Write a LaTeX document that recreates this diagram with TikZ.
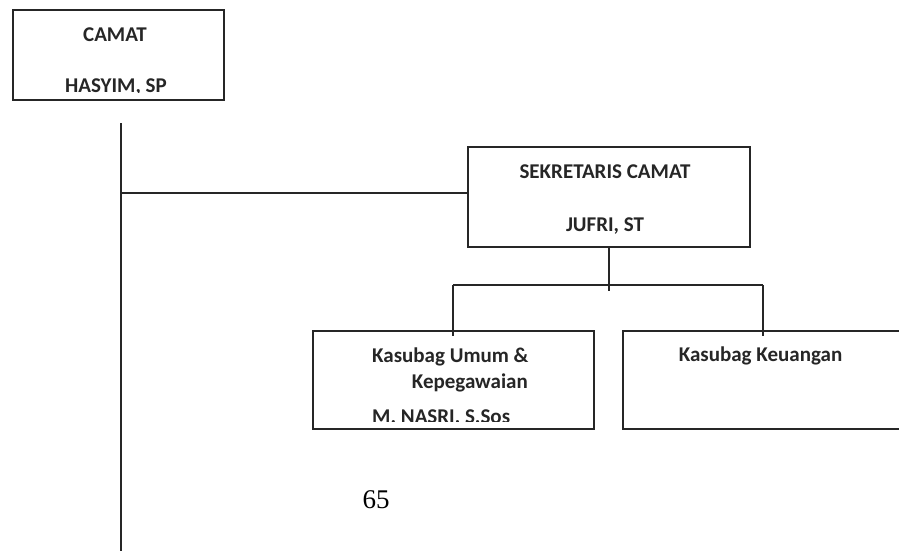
\documentclass[tikz,border=0pt]{standalone}
\usepackage{fontspec}
\setmainfont{Liberation Serif}
\newfontfamily\orgfont{Carlito}
\usetikzlibrary{positioning}

\begin{document}
\begin{tikzpicture}[
        x=1pt, y=-1pt,
        every node/.style={font=\orgfont\bfseries\fontsize{21}{25}\selectfont,
            text=black!85, inner sep=0pt},
        box/.style={rectangle, draw=black!85, line width=1.4pt, fill=none},
        line/.style={draw=black!85, line width=1.4pt}
    ]
    \clip (0,0) rectangle (899,550);
    \fill[white] (0,0) rectangle (899,550);

    % boxes
    \node (camat) [box, minimum width=211pt, minimum height=90pt] at (118.5,55) {};
    \node (sek)   [box, minimum width=282pt, minimum height=100pt] at (609,197) {};
    \node (umum)  [box, minimum width=281pt, minimum height=98pt] at (453.5,380) {};
    \node (keu)   [box, minimum width=300pt, minimum height=98pt] at (773,380) {};

    % texts, cut off 8pt above the bottom of their boxes
    \begin{scope}
        \clip (camat.north west) rectangle ([yshift=8pt]camat.south east);
        \node (camatT) [anchor=base] at (115,41.5) {CAMAT};
        \node (camatN) [anchor=base] at (116,92.5) {HASYIM, SP};
    \end{scope}
    \node (sekT) [anchor=base] at (605,178) {SEKRETARIS CAMAT};
    \node (sekN) [anchor=base] at (605,231) {JUFRI, ST};
    \begin{scope}
        \clip (umum.north west) rectangle ([yshift=8pt]umum.south east);
        \node (umumT) [anchor=base west] at (372,362) {Kasubag Umum \&};
        \node (umumU) [anchor=base east] at (528,388) {Kepegawaian};
        \node (umumN) [anchor=base west] at (372,423.5) {M. NASRI, S.Sos};
    \end{scope}
    \node (keuT) [anchor=base] at (760.5,361.5) {Kasubag Keuangan};

    \node (page) [font=\rmfamily\fontsize{27}{30}\selectfont, text=black]
        at (376,500) {65};

    % connectors
    \coordinate (top) at (121,123);
    \coordinate (bottom) at (121,552);
    \coordinate (sekin) at ([yshift=4pt]sek.west);
    \coordinate (bus) at (609,285);
    \coordinate (busend) at (609,291);
    \coordinate (busL) at (453,285);
    \coordinate (busR) at (763,285);
    \coordinate (dropL) at (453,336);
    \coordinate (dropR) at (763,336);
    \draw [line] (top) -- (bottom);
    \draw [line] (top |- sekin) -- (sekin);
    \draw [line] (bus |- sek.south) -- (busend);
    \draw [line] (busL) -- (busR);
    \draw [line] (busL) -- (dropL);
    \draw [line] (busR) -- (dropR);
\end{tikzpicture}
\end{document}
